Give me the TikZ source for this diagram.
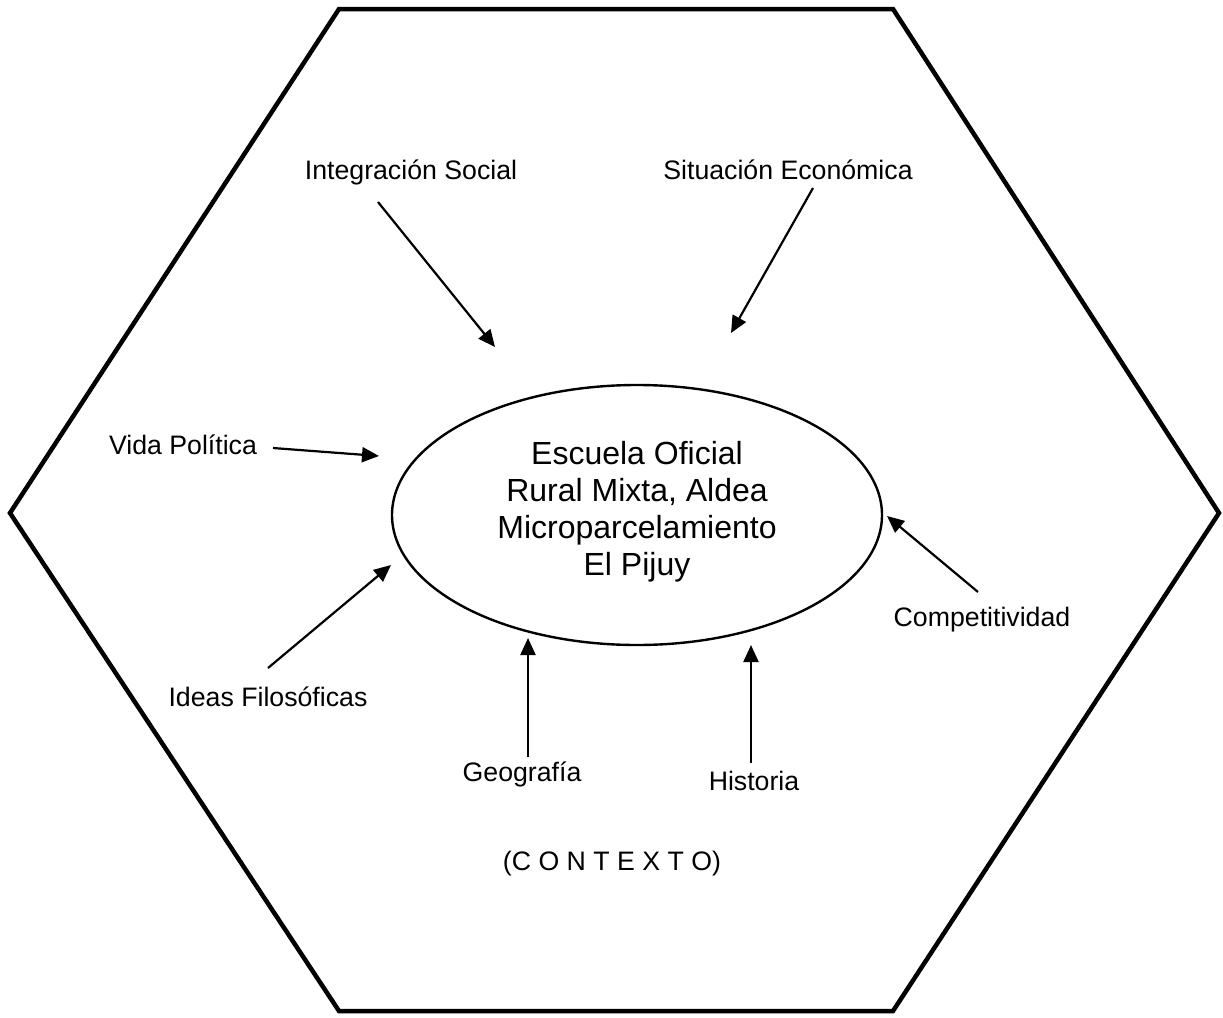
\documentclass[tikz,border=0pt]{standalone}
\usepackage{fontspec}
\setmainfont{Liberation Sans}
\usetikzlibrary{arrows.meta}
\begin{document}
\begin{tikzpicture}[x=1pt,y=-1pt,
  lbl/.style={font=\fontsize{26.7}{31}\selectfont, inner sep=0pt},
  conn/.style={line width=2.2pt, -{Triangle[length=17pt,width=15pt]}},
  hexa/.style={line width=4.5pt, line join=miter},
  oval/.style={line width=2.4pt}]
\useasboundingbox (0,0) rectangle (1223,1017);
% hexagon
\coordinate (h1) at (339,9);
\coordinate (h2) at (893,9);
\coordinate (h3) at (1219,513);
\coordinate (h4) at (893,1011);
\coordinate (h5) at (339,1011);
\coordinate (h6) at (10,513);
\draw[hexa] (h1) -- (h2) -- (h3) -- (h4) -- (h5) -- (h6) -- cycle;
% ellipse
\draw[oval] (637,515) ellipse [x radius=245, y radius=130];
\node (school) at (637,512) [align=center, inner sep=0pt,
  font=\fontsize{32}{37}\selectfont] {Escuela Oficial\\Rural Mixta, Aldea\\Microparcelamiento\\El Pijuy};
% labels
\node[lbl] (integ) at (411,172) {Integración Social};
\node[lbl] (econ) at (788,170) {Situación Económica};
\node[lbl] (vida) at (183,445) {Vida Política};
\node[lbl] (ideas) at (268,697) {Ideas Filosóficas};
\node[lbl] (comp) at (982,620) {Competitividad};
\node[lbl] (geo) at (522,774) {Geografía};
\node[lbl] (hist) at (754,781) {Historia};
\node[lbl] (ctx) at (612,864) {(C O N T E X T O)};
% arrow endpoints
\coordinate (s1) at (378,202); \coordinate (t1) at (495,347);
\coordinate (s2) at (813,188); \coordinate (t2) at (731,333);
\coordinate (s3) at (273,448); \coordinate (t3) at (379,456);
\coordinate (s4) at (268,668); \coordinate (t4) at (391,565);
\coordinate (s5) at (978,592); \coordinate (t5) at (887,516);
\coordinate (s6) at (528,757); \coordinate (t6) at (528,638);
\coordinate (s7) at (751,763); \coordinate (t7) at (751,645);
\draw[conn] (s1) -- (t1);
\draw[conn] (s2) -- (t2);
\draw[conn] (s3) -- (t3);
\draw[conn] (s4) -- (t4);
\draw[conn] (s5) -- (t5);
\draw[conn] (s6) -- (t6);
\draw[conn] (s7) -- (t7);
\end{tikzpicture}
\end{document}
